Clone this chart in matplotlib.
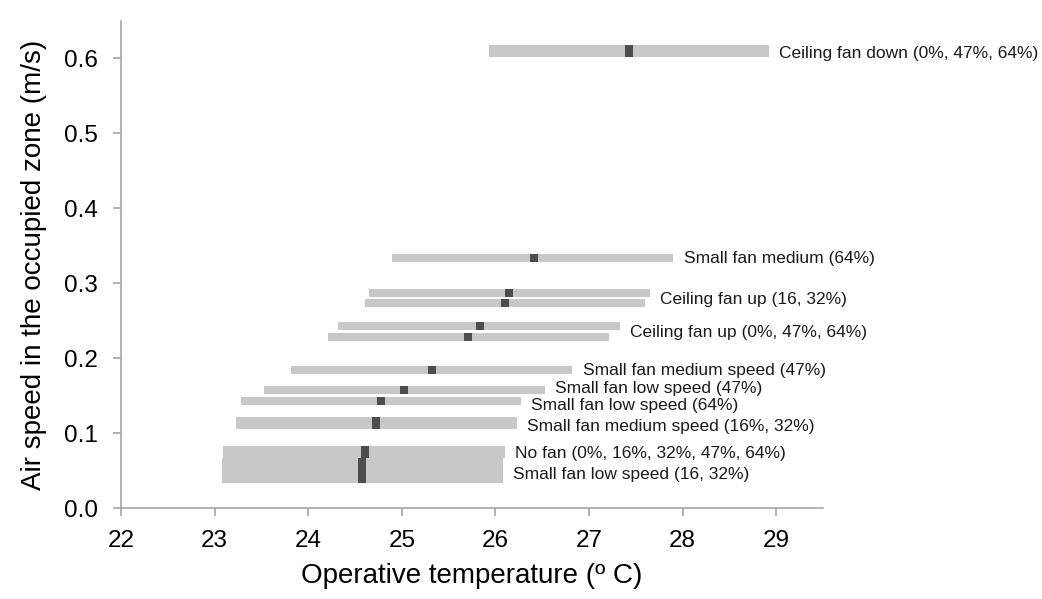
import numpy as np
import matplotlib
matplotlib.use("Agg")
import matplotlib.pyplot as plt

plt.rcParams['font.family'] = ['Liberation Sans', 'DejaVu Sans']

# condition names (one label per group of bars)
group_names = [
    "Ceiling fan down (0%, 47%, 64%)",
    "Small fan medium (64%)",
    "Ceiling fan up (16, 32%)",
    "Ceiling fan up (0%, 47%, 64%)",
    "Small fan medium speed (47%)",
    "Small fan low speed (47%)",
    "Small fan low speed (64%)",
    "Small fan medium speed (16%, 32%)",
    "No fan (0%, 16%, 32%, 47%, 64%)",
    "Small fan low speed (16, 32%)",
]

# one entry per bar: group, air speed, operative temperature low / mid / high
bar_group = [0, 0, 1, 2, 2, 3, 3, 4, 5, 6, 7, 7, 8, 8, 8, 8, 8, 9, 9]
air_speed = [0.613, 0.607, 0.333, 0.287, 0.274, 0.243, 0.228, 0.184, 0.158,
             0.143, 0.1156, 0.1103, 0.0773, 0.072, 0.0613, 0.0553, 0.0493,
             0.044, 0.0387]
t_low = [25.93, 25.93, 24.90, 24.65, 24.61, 24.32, 24.21, 23.82, 23.53,
         23.28, 23.23, 23.23, 23.09, 23.09, 23.08, 23.08, 23.08, 23.08, 23.08]
t_mid = [27.43, 27.43, 26.41, 26.15, 26.10, 25.84, 25.71, 25.32, 25.02,
         24.78, 24.72, 24.72, 24.61, 24.61, 24.58, 24.58, 24.58, 24.58, 24.58]
t_high = [28.92, 28.92, 27.90, 27.65, 27.60, 27.33, 27.21, 26.82, 26.53,
          26.27, 26.23, 26.23, 26.10, 26.10, 26.08, 26.08, 26.08, 26.08, 26.08]

# small vertical nudges (points) so the labels sit where they read best
label_dy = [-1.5, 0, -1.5, -1, 0, 1, -3, -2.5, 5.5, 1.5]

fig = plt.figure(figsize=(10.42, 5.99), dpi=100)
ax = fig.add_axes([0.1161, 0.1519, 0.6737, 0.8131])

ax.hlines(air_speed, t_low, t_high, color='#c8c8c8', linewidth=5.8, zorder=2)
ax.plot(t_mid, air_speed, linestyle='none', marker='s', markersize=5.6,
        markerfacecolor='#4d4d4d', markeredgewidth=0, zorder=3)

bar_group = np.array(bar_group)
air_speed = np.array(air_speed)
t_high = np.array(t_high)
for g, name in enumerate(group_names):
    sel = bar_group == g
    ax.annotate(name, xy=(t_high[sel].max(), air_speed[sel].mean()),
                xytext=(7.5, label_dy[g]), textcoords='offset points',
                ha='left', va='center', fontsize=12.5, color='#1a1a1a',
                annotation_clip=False)

ax.set_xlim(22, 29.5)
ax.set_ylim(0, 0.65)
ax.set_xticks(np.arange(22, 30, 1))
ax.set_yticks(np.arange(0, 0.61, 0.1))
ax.set_yticklabels([f"{v:.1f}" for v in np.arange(0, 0.61, 0.1)])

for side in ['top', 'right']:
    ax.spines[side].set_visible(False)
for side in ['left', 'bottom']:
    ax.spines[side].set_color('#a6a6a6')
    ax.spines[side].set_linewidth(1.2)
ax.tick_params(axis='both', colors='#a6a6a6', width=1.2, length=5.5,
               labelcolor='black', labelsize=17.5)
ax.tick_params(axis='y', pad=11)
ax.tick_params(axis='x', pad=10)

ax.set_xlabel("Operative temperature (º C)", fontsize=20, labelpad=8)
ax.set_ylabel("Air speed in the occupied zone (m/s)", fontsize=20, labelpad=12)

fig.savefig("out.png", dpi=100)
